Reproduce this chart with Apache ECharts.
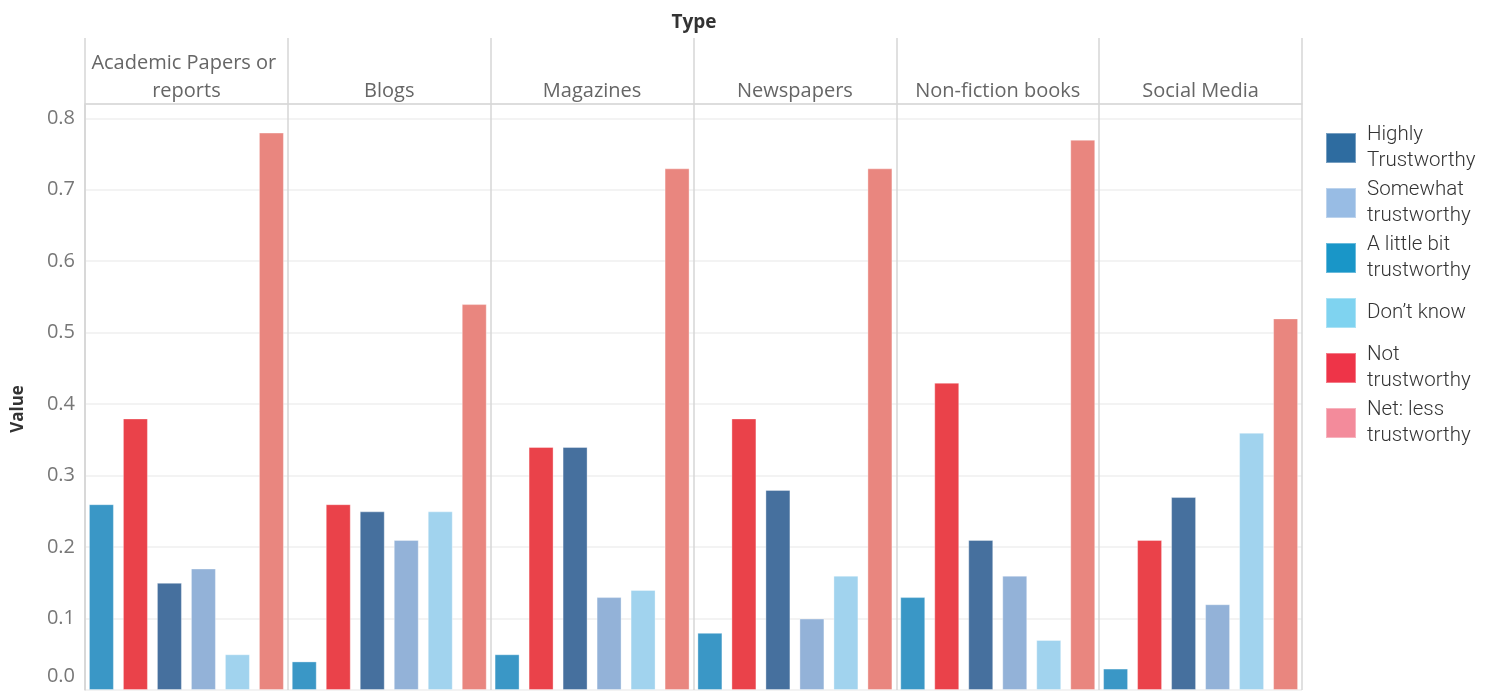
<!DOCTYPE html>
<html><head><meta charset="utf-8">
<script src="https://cdn.jsdelivr.net/npm/echarts@6/dist/echarts.min.js"></script>
<style>html,body{margin:0;padding:0;background:#fff}#c{width:1500px;height:695px}</style>
</head><body><div id="c"></div>
<script>
const types = ['Academic Papers or reports','Blogs','Magazines','Newspapers','Non-fiction books','Social Media'];
const aLittleBit = [0.26,0.04,0.05,0.08,0.13,0.03];
const notTrust   = [0.38,0.26,0.34,0.38,0.43,0.21];
const highly     = [0.15,0.25,0.34,0.28,0.21,0.27];
const somewhat   = [0.17,0.21,0.13,0.10,0.16,0.12];
const dontKnow   = [0.05,0.25,0.14,0.16,0.07,0.36];
const netLess    = [0.78,0.54,0.73,0.73,0.77,0.52];
const yTicks = ['0.0','0.1','0.2','0.3','0.4','0.5','0.6','0.7','0.8'];

const seriesDefs = [
  {name:'A little bit trustworthy', data:aLittleBit, bar:'#3a97c6', leg:'#1996c8'},
  {name:'Not trustworthy', data:notTrust, bar:'#ea424a', leg:'#ee3448'},
  {name:'Highly Trustworthy', data:highly, bar:'#46709e', leg:'#2e6ca0'},
  {name:'Somewhat trustworthy', data:somewhat, bar:'#93b2d8', leg:'#98bce4'},
  {name:'Don’t know', data:dontKnow, bar:'#a1d3ee', leg:'#7fd3f0'},
  {name:'Net: less trustworthy', data:netLess, bar:'#e9867f', leg:'#f38b9b'}
];
const legendOrder = ['Highly Trustworthy','Somewhat trustworthy','A little bit trustworthy','Don’t know','Not trustworthy','Net: less trustworthy'];
const legendLabels = {'Highly Trustworthy':'Highly\nTrustworthy','Somewhat trustworthy':'Somewhat\ntrustworthy','A little bit trustworthy':'A little bit\ntrustworthy','Don’t know':'Don’t know','Not trustworthy':'Not\ntrustworthy','Net: less trustworthy':'Net: less\ntrustworthy'};

const chart = echarts.init(document.getElementById('c'));
const gridLine = '#d6d6d6';
chart.setOption({
  animation:false,
  title:{text:'Type', left:689, top:8, textAlign:'center', textStyle:{fontFamily:'Open Sans', fontSize:19, fontWeight:'bold', color:'#333'}},
  legend:{
    orient:'vertical', left:1325, top:122, padding:0, itemWidth:30, itemHeight:30, itemGap:3,
    icon:'rect', selectedMode:false,
    textStyle:{fontFamily:'Roboto', fontWeight:300, fontSize:20.5, lineHeight:26, height:52, color:'#333', padding:[0,0,0,6]},
    formatter:n=>legendLabels[n],
    data:legendOrder.map(n=>{const s=seriesDefs.find(d=>d.name===n);return {name:n,itemStyle:{color:s.leg}};})
  },
  grid:[
    {left:85, right:198, top:104, bottom:5, outerBoundsMode:'none'},
    {left:85, right:198, top:38, height:66, outerBoundsMode:'none'}
  ],
  xAxis:[
    {type:'category', gridIndex:0, data:types, axisLine:{show:false}, axisTick:{show:false}, axisLabel:{show:false},
     splitLine:{show:true, interval:0, lineStyle:{color:gridLine, width:1.5}}},
    {type:'category', gridIndex:1, data:types, position:'bottom',
     axisLine:{show:true, lineStyle:{color:gridLine, width:1.5}}, axisTick:{show:false},
     axisLabel:{inside:true, interval:0, margin:-1, width:198, overflow:'break', lineHeight:28, fontFamily:'Open Sans', fontSize:20, color:'#666'},
     splitLine:{show:true, interval:0, lineStyle:{color:gridLine, width:1.5}}}
  ],
  yAxis:[
    {type:'value', gridIndex:0, min:0, max:0.82, interval:0.1,
     name:'Value', nameLocation:'middle', nameGap:58, nameRotate:90,
     nameTextStyle:{fontFamily:'Open Sans', fontSize:17, fontWeight:'bold', color:'#333', padding:[0,24,0,0]},
     axisLine:{show:true, lineStyle:{color:gridLine, width:1.5}}, axisTick:{show:false},
     axisLabel:{margin:10, fontFamily:'Open Sans', fontSize:20, color:'#777',
       formatter:v=>{const i=Math.round(v*10); if(Math.abs(v*10-i)>1e-6) return ''; return i===0?'{z|'+yTicks[0]+'}':yTicks[i];},
       rich:{z:{fontFamily:'Open Sans', fontSize:20, color:'#777', padding:[0,0,28,0]}}},
     splitLine:{show:true, lineStyle:{color:'#efefef', width:1.5}}},
    {type:'value', gridIndex:1, show:false}
  ],
  series:seriesDefs.map(s=>({
    type:'bar', name:s.name, data:s.data, xAxisIndex:0, yAxisIndex:0,
    barWidth:25, barGap:'36%',
    itemStyle:{color:s.bar, borderColor:'rgba(255,255,255,0.35)', borderWidth:1}
  }))
});
</script></body></html>
